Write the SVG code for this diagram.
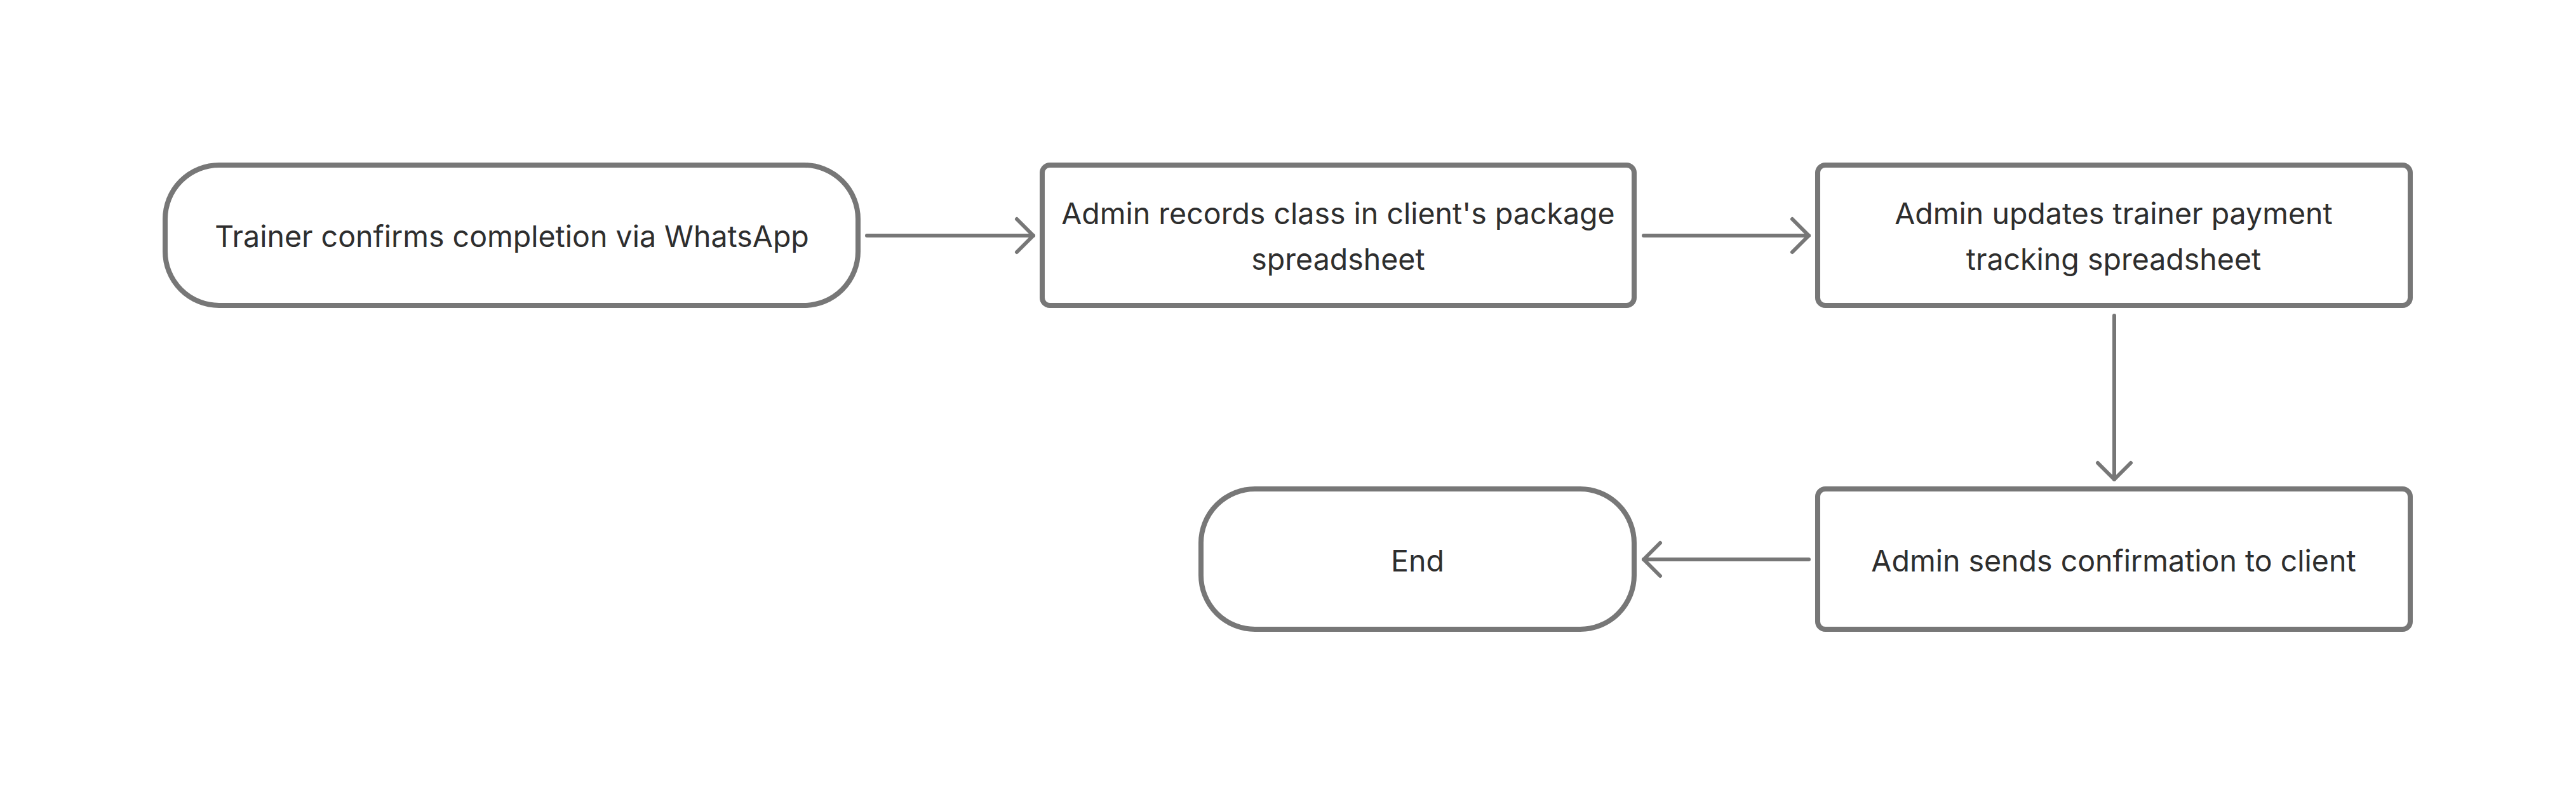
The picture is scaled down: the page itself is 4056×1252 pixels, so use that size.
<svg xmlns="http://www.w3.org/2000/svg" width="4056" height="1252" viewBox="0 0 4056 1252">
  <style>
    .box { fill: #ffffff; stroke: #777777; stroke-width: 8; }
    .lbl { font-family: Inter, "Noto Sans", "Liberation Sans", sans-serif; font-size: 46.5px; fill: #2e2e2e; text-anchor: middle; }
    .edge { fill: none; stroke: #777777; stroke-width: 6; stroke-linecap: round; }
  </style>
  <defs>
    <marker id="arrow" markerUnits="userSpaceOnUse" viewBox="-32 -32 40 64" markerWidth="40" markerHeight="64" refX="0" refY="0" orient="auto" overflow="visible">
      <path d="M -26 -26 L 0 0 L -26 26" fill="none" stroke="#777777" stroke-width="6" stroke-linecap="round" stroke-linejoin="round"/>
    </marker>
  </defs>
  <rect width="4056" height="1252" fill="#ffffff"/>
  <g id="connectors">
    <path class="edge" d="M 1365 371 L 1627 371" marker-end="url(#arrow)"/>
    <path class="edge" d="M 2588 371 L 2848 371" marker-end="url(#arrow)"/>
    <path class="edge" d="M 3329 497 L 3329 755" marker-end="url(#arrow)"/>
    <path class="edge" d="M 2848 881 L 2588 881" marker-end="url(#arrow)"/>
  </g>
  <g id="node-start">
    <rect class="box" x="260" y="260" width="1091" height="221" rx="85" ry="85"/>
    <text class="lbl" x="806" y="389">Trainer confirms completion via WhatsApp</text>
  </g>
  <g id="node-record">
    <rect class="box" x="1641" y="260" width="932" height="221" rx="12" ry="12"/>
    <text class="lbl" x="2107" y="353">Admin records class in client's package</text>
    <text class="lbl" x="2107" y="425">spreadsheet</text>
  </g>
  <g id="node-payment">
    <rect class="box" x="2862" y="260" width="933" height="221" rx="12" ry="12"/>
    <text class="lbl" x="3328" y="353">Admin updates trainer payment</text>
    <text class="lbl" x="3328" y="425">tracking spreadsheet</text>
  </g>
  <g id="node-confirm">
    <rect class="box" x="2862" y="770" width="933" height="221" rx="12" ry="12"/>
    <text class="lbl" x="3328" y="900">Admin sends confirmation to client</text>
  </g>
  <g id="node-end">
    <rect class="box" x="1891" y="770" width="682" height="221" rx="85" ry="85"/>
    <text class="lbl" x="2232" y="900">End</text>
  </g>
</svg>
